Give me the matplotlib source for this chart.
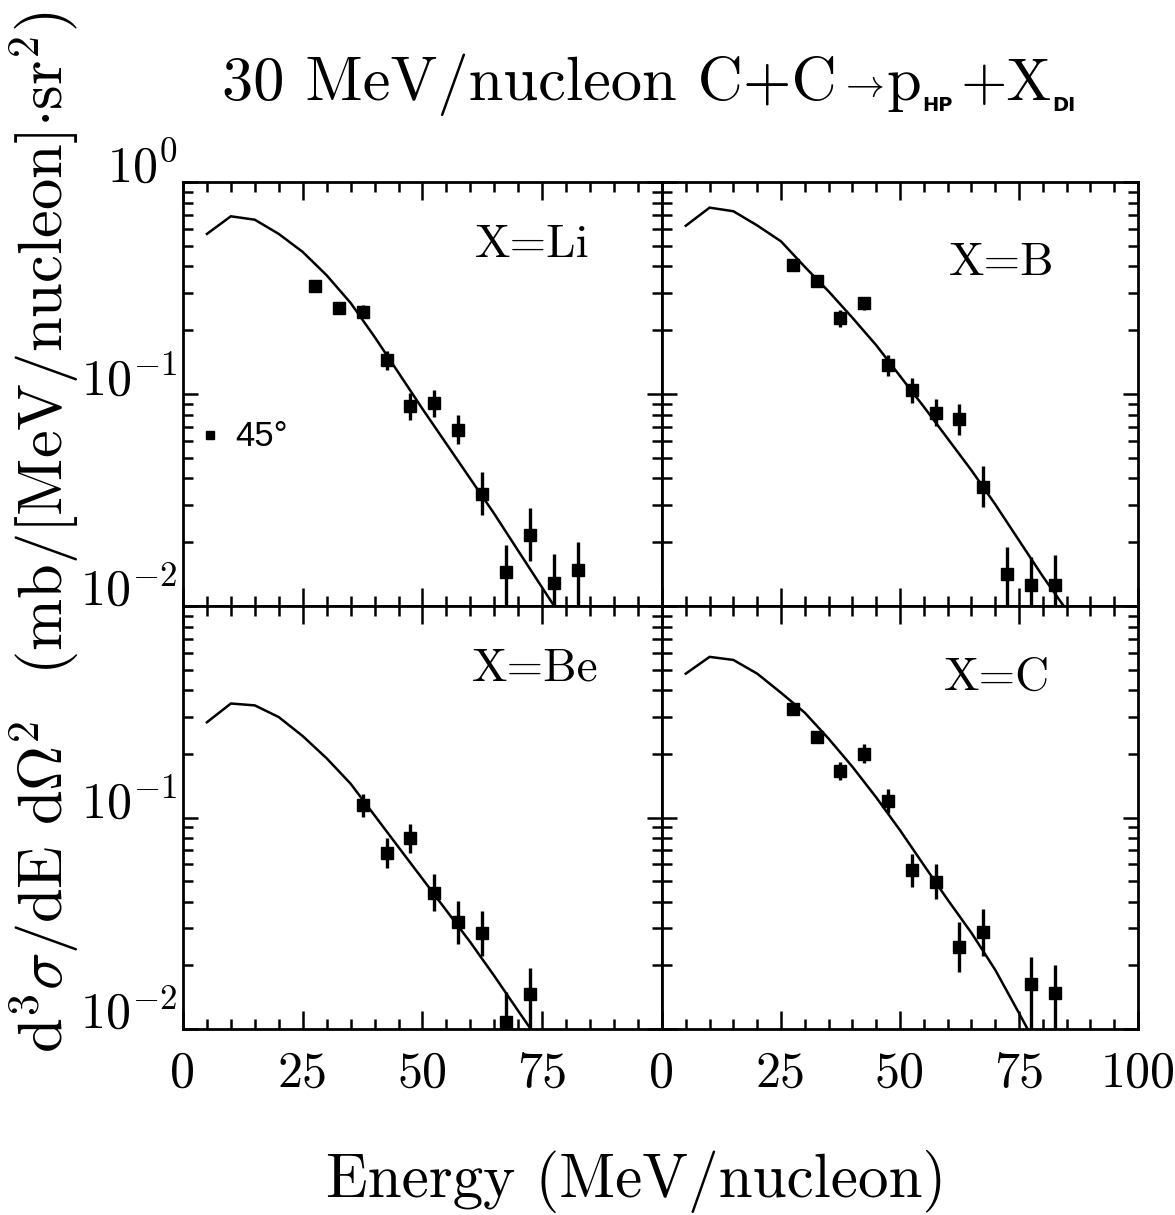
import matplotlib
matplotlib.use("Agg")
import matplotlib.pyplot as plt
from matplotlib.ticker import FixedLocator, LogLocator, NullFormatter, FuncFormatter, MultipleLocator
import numpy as np

plt.rcParams['font.family'] = ['cmr10', 'DejaVu Serif']
plt.rcParams['mathtext.fontset'] = 'cm'
plt.rcParams['axes.formatter.use_mathtext'] = True

# ---------------- data ----------------
x_li = [27.5, 32.5, 37.5, 42.5, 47.5, 52.5, 57.5, 62.5, 67.5, 72.5, 77.5, 82.5]
y_li = [0.324, 0.255, 0.245, 0.1445, 0.0875, 0.0903, 0.068, 0.0339, 0.0145, 0.0217, 0.0129, 0.01485]
lo_li = [0.31, 0.241, 0.229, 0.130, 0.0757, 0.078, 0.0579, 0.0269, 0.0100, 0.0163, 0.0100, 0.0100]
hi_li = [0.34, 0.270, 0.263, 0.160, 0.101, 0.1045, 0.0799, 0.0427, 0.0193, 0.0289, 0.0176, 0.0200]

x_b = [27.5, 32.5, 37.5, 42.5, 47.5, 52.5, 57.5, 62.5, 67.5, 72.5, 77.5, 82.5]
y_b = [0.406, 0.34, 0.228, 0.268, 0.1364, 0.104, 0.0818, 0.0759, 0.0366, 0.0142, 0.01253, 0.01258]
lo_b = [0.388, 0.325, 0.208, 0.25, 0.1216, 0.0906, 0.0709, 0.0643, 0.0294, 0.0100, 0.0100, 0.0100]
hi_b = [0.425, 0.356, 0.25, 0.287, 0.153, 0.1194, 0.0944, 0.0896, 0.0456, 0.019, 0.0170, 0.0174]

x_be = [37.5, 42.5, 47.5, 52.5, 57.5, 62.5, 67.5, 72.5]
y_be = [0.1143, 0.0679, 0.0797, 0.044, 0.0319, 0.0284, 0.0108, 0.01465]
lo_be = [0.1007, 0.0574, 0.0681, 0.036, 0.0251, 0.0222, 0.0100, 0.0100]
hi_be = [0.1297, 0.0804, 0.0932, 0.0538, 0.0405, 0.0363, 0.0149, 0.0194]

x_c = [27.5, 32.5, 37.5, 42.5, 47.5, 52.5, 57.5, 62.5, 67.5, 77.5, 82.5]
y_c = [0.3266, 0.2393, 0.1655, 0.2006, 0.1192, 0.0562, 0.0498, 0.0244, 0.0286, 0.01636, 0.01476]
lo_c = [0.312, 0.226, 0.150, 0.1816, 0.1045, 0.0468, 0.041, 0.0185, 0.0222, 0.0100, 0.0100]
hi_c = [0.342, 0.253, 0.183, 0.2216, 0.136, 0.0675, 0.0604, 0.0321, 0.0369, 0.0219, 0.0201]

cx_li = [5, 10, 15, 20, 25, 30, 35, 40, 45, 50, 55, 60, 65, 70, 75, 77.5]
cy_li = [0.569, 0.689, 0.664, 0.569, 0.468, 0.363, 0.269, 0.186, 0.126, 0.0851, 0.0582, 0.0398, 0.0272, 0.0182, 0.0122, 0.0100]
cx_b = [5, 10, 15, 20, 25, 30, 35, 40, 45, 50, 55, 60, 65, 70, 75, 80, 84.4]
cy_b = [0.622, 0.757, 0.728, 0.624, 0.525, 0.398, 0.305, 0.229, 0.170, 0.1216, 0.0871, 0.0617, 0.0437, 0.0302, 0.0204, 0.0138, 0.0100]
cx_be = [5, 10, 15, 20, 25, 30, 35, 40, 45, 50, 55, 60, 65, 70, 72.6]
cy_be = [0.282, 0.346, 0.339, 0.2985, 0.2427, 0.1905, 0.1445, 0.1023, 0.0724, 0.0513, 0.0363, 0.0257, 0.0178, 0.01216, 0.0100]
cx_c = [5, 10, 15, 20, 25, 30, 35, 40, 45, 50, 55, 60, 65, 70, 75, 76.8]
cy_c = [0.479, 0.575, 0.556, 0.479, 0.389, 0.313, 0.236, 0.1738, 0.1245, 0.0871, 0.0596, 0.0409, 0.0285, 0.01905, 0.01189, 0.0100]

panel_labels = ["X=Li", "X=B", "X=Be", "X=C"]
x_ticks = [0, 25, 50, 75, 100]
y_ticks = [0.01, 0.1, 1.0]
title_parts = ["30 MeV/nucleon C+C", r"$\rightarrow$", "p", "HP", "+X", "DI"]
xlabel = "Energy (MeV/nucleon)"
ylabel = r"d$^3\sigma$/dE d$\Omega^2$  (mb/[MeV/nucleon]$\cdot$sr$^2$)"
legend_label = "45°"

# ---------------- figure ----------------
W, H = 1175, 1215
fig = plt.figure(figsize=(W / 100, H / 100), dpi=100)
L, M, R = 0.1557, 0.5634, 0.9685
T, MY, B = 0.8502, 0.5012, 0.1531
boxes = [[L, MY, M - L, T - MY], [M, MY, R - M, T - MY],
         [L, B, M - L, MY - B], [M, B, R - M, MY - B]]
data = [(x_li, y_li, lo_li, hi_li, cx_li, cy_li),
        (x_b, y_b, lo_b, hi_b, cx_b, cy_b),
        (x_be, y_be, lo_be, hi_be, cx_be, cy_be),
        (x_c, y_c, lo_c, hi_c, cx_c, cy_c)]
label_pos = [(0.729, 0.851), (0.714, 0.809), (0.735, 0.853), (0.704, 0.83)]

for i, (box, d) in enumerate(zip(boxes, data)):
    ax = fig.add_axes(box)
    xs, ys, lo, hi, cx, cy = [np.array(a, dtype=float) for a in d]
    ax.set_yscale('log')
    ax.set_xlim(0, 100)
    ax.set_ylim(0.01, 1.0)
    ax.plot(cx, cy, color='k', lw=1.8, solid_joinstyle='miter')
    ax.errorbar(xs, ys, yerr=[ys - lo, hi - ys], fmt='s', color='k', ms=8,
                elinewidth=2.4, capsize=0)
    ax.xaxis.set_major_locator(FixedLocator(x_ticks))
    ax.xaxis.set_minor_locator(MultipleLocator(5))
    ax.yaxis.set_major_locator(FixedLocator(y_ticks))
    ax.yaxis.set_minor_locator(LogLocator(base=10, subs=np.arange(2, 10)))
    ax.yaxis.set_minor_formatter(NullFormatter())
    ax.xaxis.set_minor_formatter(NullFormatter())
    ax.tick_params(which='both', direction='in', top=True, right=True, width=1.8)
    ax.tick_params(axis='x', which='major', length=13)
    ax.tick_params(axis='x', which='minor', length=7)
    ax.tick_params(axis='y', which='major', length=11)
    ax.tick_params(axis='y', which='minor', length=7)
    ax.tick_params(axis='x', labelsize=36, pad=16)
    ax.tick_params(axis='y', labelsize=36, pad=4)
    for s in ax.spines.values():
        s.set_linewidth(2.0)
    col = i % 2
    row = i // 2
    if row == 1:
        if col == 0:
            ax.xaxis.set_major_formatter(FuncFormatter(lambda v, p: "" if v >= 100 else "%d" % v))
        else:
            ax.xaxis.set_major_formatter(FuncFormatter(lambda v, p: "%d" % v))
    else:
        ax.xaxis.set_major_formatter(NullFormatter())
    if col == 0:
        if row == 0:
            ax.yaxis.set_major_formatter(FuncFormatter(lambda v, p: r"$10^{%d}$" % round(np.log10(v))))
        else:
            ax.yaxis.set_major_formatter(FuncFormatter(
                lambda v, p: "" if v >= 1 else r"$10^{%d}$" % round(np.log10(v))))
        for lab in ax.get_yticklabels():
            lab.set_va('baseline')
    else:
        ax.yaxis.set_major_formatter(NullFormatter())
    ax.text(label_pos[i][0], label_pos[i][1], panel_labels[i], transform=ax.transAxes,
            ha='center', va='center', fontsize=34)
    if i == 0:
        ax.plot([0.056], [0.403], marker='s', color='k', ms=6, transform=ax.transAxes)
        ax.text(0.109, 0.399, legend_label, transform=ax.transAxes, ha='left', va='center',
                fontsize=25, family=['Liberation Sans', 'DejaVu Sans'])

# ---- title built from pieces (small sans subscripts) ----
renderer = fig.canvas.get_renderer()
styles = [dict(size=45, base=100, gap=2),
          dict(size=28, base=96, gap=2),
          dict(size=45, base=100, gap=1),
          dict(size=14, base=111, gap=8, family=['DejaVu Sans'], weight='bold'),
          dict(size=43, base=100, gap=1),
          dict(size=14, base=111, gap=0, family=['DejaVu Sans'], weight='bold')]
xpix = 222
for part, st in zip(title_parts, styles):
    kw = {}
    if 'family' in st:
        kw['family'] = st['family']
    if 'weight' in st:
        kw['weight'] = st['weight']
    t = fig.text(xpix / W, 1 - st['base'] / H, part, ha='left', va='baseline',
                 fontsize=st['size'], **kw)
    ext = t.get_window_extent(renderer=renderer)
    xpix = ext.x1 + st['gap']

fig.text(0.541, 0.0148, xlabel, ha='center', va='baseline', fontsize=44)
fig.text(0.038, 0.562, ylabel, ha='center', va='center', rotation=90, fontsize=45)

fig.savefig("out.png", dpi=100)
